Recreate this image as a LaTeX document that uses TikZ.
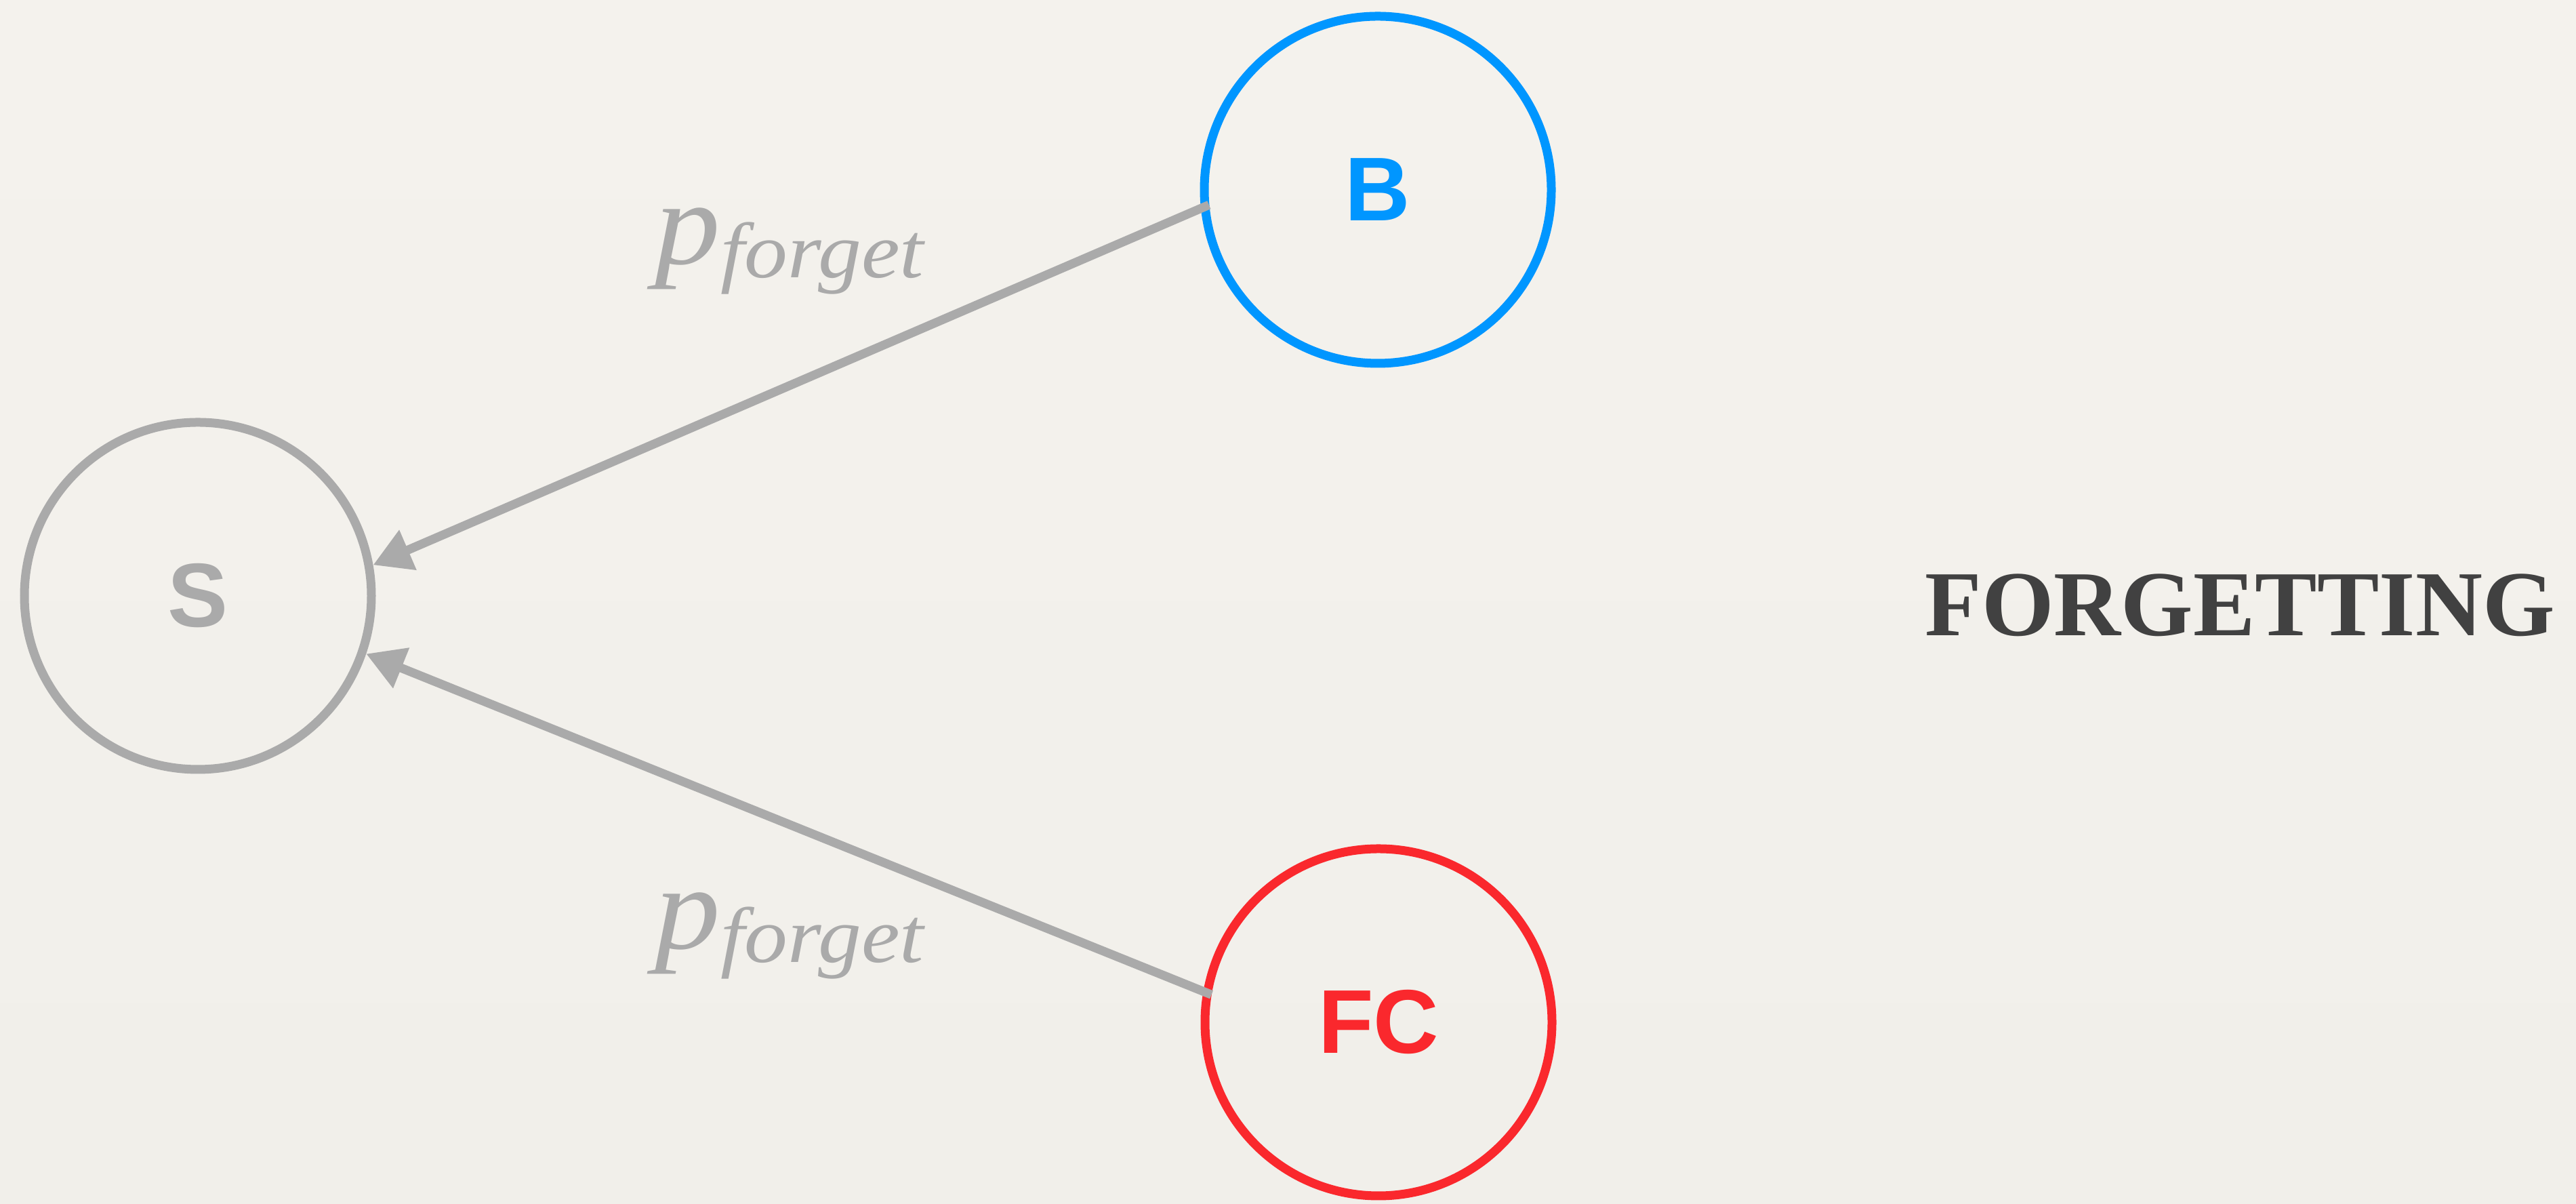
\documentclass[tikz,border=0pt]{standalone}
\usepackage{fontspec}
\setmainfont{Liberation Serif}
\setsansfont{Liberation Sans}
\newfontfamily\ratefont[FakeStretch=1.1]{Liberation Serif}
\usetikzlibrary{positioning, arrows.meta}
\definecolor{PaperTop}{RGB}{244, 242, 237}
\definecolor{PaperMid}{RGB}{226, 223, 217}
\definecolor{PaperBot}{RGB}{241, 239, 234}
\definecolor{StateGray}{RGB}{170, 170, 170}
\definecolor{StateBlue}{RGB}{0, 150, 255}
\definecolor{StateRed}{RGB}{250, 40, 45}
\definecolor{TitleGray}{RGB}{65, 65, 65}

\begin{document}
\begin{tikzpicture}[
      state/.style={circle, draw=#1, text=#1, line width=0.13cm, minimum size=5.12cm, inner sep=0pt,
      font=\sffamily\bfseries\fontsize{38}{44}\selectfont},
      flow/.style={draw=StateGray, line width=0.13cm, -{Triangle[length=0.56cm, width=0.61cm]}},
      rate/.style={text=StateGray, font=\ratefont\itshape, anchor=base west, inner sep=0pt}
    ]
      \fill[top color=PaperTop, middle color=PaperMid, bottom color=PaperBot] (0,0) rectangle (38.01,17.76);
      \useasboundingbox (0,0) rectangle (38.01,17.76);

      \node[state=StateGray] (S) at (2.92,8.97) {S};
      \node[state=StateBlue, on grid, above right=5.99cm and 17.41cm of S] (B) {B};
      \node[state=StateRed, on grid, below right=6.29cm and 17.42cm of S] (FC) {FC};

      \node[rate] (rateB) at (9.66,13.86) {{\fontsize{50}{56}\selectfont p}\raisebox{-0.2cm}{\fontsize{33}{38}\selectfont forget}};
      \node[rate] (rateFC) at (9.66,3.76) {{\fontsize{50}{56}\selectfont p}\raisebox{-0.2cm}{\fontsize{33}{38}\selectfont forget}};

      \node[text=TitleGray, font=\bfseries\fontsize{39}{44}\selectfont, anchor=base] (title) at (33.05,8.38) {FORGETTING};

      \draw[flow, shorten <=-0.13cm] (B.186.4) -- (S.10.7);
      \draw[flow, shorten <=-0.13cm] (FC.170.3) -- (S.341.6);
    \end{tikzpicture}
\end{document}
